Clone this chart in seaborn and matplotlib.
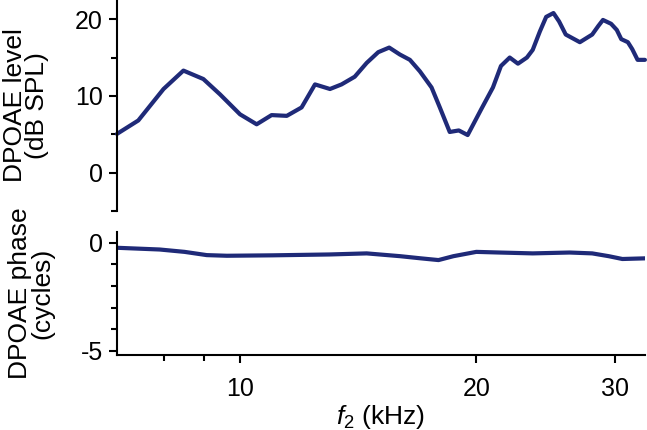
"""
DPOAE level / phase vs f2
"""
import numpy as np
import matplotlib
matplotlib.use('Agg')
import matplotlib.pyplot as plt
import seaborn as sns
import pandas as pd
from matplotlib.ticker import FixedLocator, NullFormatter

# level panel (kHz, dB SPL)
level_freq = [6.97, 7.42, 7.99, 8.47, 8.98, 9.43, 10.0, 10.5, 10.97, 11.47, 11.98,
              12.46, 13.02, 13.47, 14.0, 14.5, 15.0, 15.49, 15.98, 16.46, 16.95,
              17.54, 17.97, 18.5, 19.0, 19.5, 20.3, 21.0, 21.5, 22.06, 22.6, 23.2,
              23.6, 24.1, 24.55, 25.08, 25.5, 26.0, 27.1, 28.1, 28.6, 29.0, 29.7,
              30.2, 30.6, 31.2, 31.6, 32.1, 32.8]
level_db = [5.05, 6.8, 10.9, 13.3, 12.2, 10.2, 7.6, 6.3, 7.5, 7.4, 8.5,
            11.5, 10.9, 11.5, 12.5, 14.3, 15.7, 16.3, 15.4, 14.7, 13.2,
            11.1, 8.5, 5.3, 5.5, 4.9, 8.3, 11.1, 13.9, 15.0, 14.2, 15.0,
            16.0, 18.4, 20.3, 20.8, 19.7, 18.0, 17.0, 18.0, 19.1, 19.9, 19.4,
            18.6, 17.4, 17.0, 16.1, 14.7, 14.7]

# phase panel (kHz, cycles)
phase_freq = [6.97, 7.9, 8.5, 9.07, 9.62, 11.0, 13.0, 14.5, 16.0, 17.0, 17.9, 18.7,
              20.0, 21.4, 23.6, 26.3, 28.1, 29.5, 30.7, 32.8]
phase_cyc = [-0.23, -0.31, -0.42, -0.57, -0.6, -0.58, -0.54, -0.49, -0.62, -0.72, -0.8,
             -0.62, -0.42, -0.45, -0.49, -0.45, -0.49, -0.62, -0.75, -0.72]

x_ticks = [10, 20, 30]
x_minor = [8, 9]

sns.set_style('ticks', {'axes.edgecolor': 'black', 'text.color': 'black',
                        'axes.labelcolor': 'black', 'xtick.color': 'black',
                        'ytick.color': 'black'})
plt.rcParams['font.family'] = ['Liberation Sans', 'DejaVu Sans']
plt.rcParams['mathtext.fontset'] = 'custom'
plt.rcParams['mathtext.rm'] = 'Liberation Sans'
plt.rcParams['mathtext.it'] = 'Liberation Sans:italic'

line_color = '#1f2a78'
fs_tick = 18
fs_lab = 19

df_level = pd.DataFrame({'f2': level_freq, 'level': level_db})
df_phase = pd.DataFrame({'f2': phase_freq, 'phase': phase_cyc})

fig = plt.figure(figsize=(6.47, 4.30), dpi=100)
ax1 = fig.add_axes([0.1808, 0.5093, 0.816, 0.4907])
ax2 = fig.add_axes([0.1808, 0.1744, 0.816, 0.286])

sns.lineplot(data=df_level, x='f2', y='level', ax=ax1, color=line_color, lw=3.0,
             sort=False, clip_on=False)
sns.lineplot(data=df_phase, x='f2', y='phase', ax=ax2, color=line_color, lw=3.0,
             sort=False)

for ax in (ax1, ax2):
    ax.set_xscale('log')
    ax.set_xlim(6.97, 32.8)
    sns.despine(ax=ax)
    ax.spines['left'].set_linewidth(1.5)
    ax.spines['bottom'].set_linewidth(1.5)
    ax.tick_params(axis='y', which='major', length=6, width=1.5, pad=4, labelsize=fs_tick)
    ax.tick_params(axis='y', which='minor', length=4, width=1.5)

# top panel
ax1.spines['bottom'].set_visible(False)
ax1.set_ylim(-5, 22.5)
ax1.yaxis.set_major_locator(FixedLocator([0, 10, 20]))
ax1.yaxis.set_minor_locator(FixedLocator([-5, 5, 15]))
ax1.tick_params(axis='x', which='both', bottom=False, labelbottom=False)
ax1.set_xlabel('')
ax1.set_ylabel('DPOAE level\n(dB SPL)', fontsize=fs_lab, linespacing=0.9, labelpad=19)

# bottom panel
ax2.set_ylim(-5.2, 0.5)
ax2.yaxis.set_major_locator(FixedLocator([-5, 0]))
ax2.yaxis.set_minor_locator(FixedLocator([-4, -3, -2, -1]))
ax2.yaxis.set_major_formatter(matplotlib.ticker.FuncFormatter(lambda v, p: f'{v:.0f}'))
ax2.xaxis.set_major_locator(FixedLocator(x_ticks))
ax2.xaxis.set_major_formatter(matplotlib.ticker.FixedFormatter([str(t) for t in x_ticks]))
ax2.xaxis.set_minor_locator(FixedLocator(x_minor))
ax2.xaxis.set_minor_formatter(NullFormatter())
ax2.tick_params(axis='x', which='major', length=6, width=1.5, pad=10, labelsize=fs_tick)
ax2.tick_params(axis='x', which='minor', length=4, width=1.5)
ax2.set_xlabel(r'$f_2$ (kHz)', fontsize=fs_lab, labelpad=1)
ax2.set_ylabel('DPOAE phase\n(cycles)', fontsize=fs_lab, linespacing=0.9, labelpad=19)

fig.savefig('out.png', dpi=100)
